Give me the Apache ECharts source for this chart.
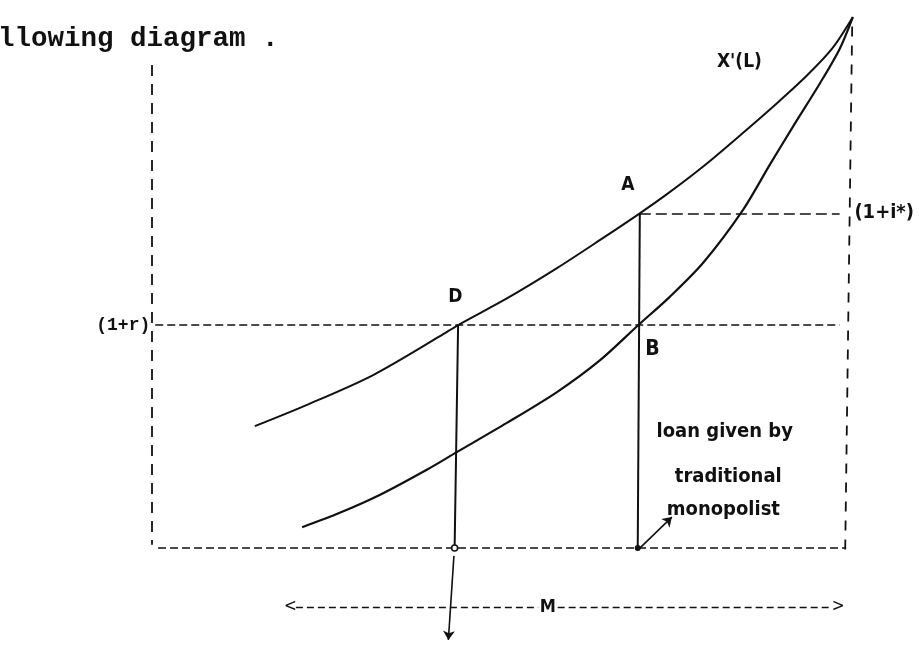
<!DOCTYPE html>
<html>
<head>
<meta charset="utf-8">
<title>Loan diagram</title>
<script src="https://cdn.jsdelivr.net/npm/echarts@6/dist/echarts.min.js"></script>
<style>
  html, body { margin: 0; padding: 0; background: #fff; }
  #chart { width: 919px; height: 649px; }
</style>
</head>
<body>
<div id="chart"></div>
<script>
// x = loan size, y = interest factor, both in arbitrary diagram units
const upperL = [14.6, 22.1, 31.6, 41.2, 43.8, 50.8, 58.0, 64.2, 69.9, 73.8, 79.0, 84.7, 89.6, 93.9, 97.6, 100.5];
const upperY = [22.9, 26.9, 32.5, 39.8, 41.9, 46.9, 52.6, 57.9, 62.9, 66.5, 71.7, 78.0, 83.6, 88.8, 94.0, 99.8];
const lowerL = [21.4, 26.8, 32.6, 39.3, 43.6, 50.8, 58.0, 64.2, 69.7, 74.2, 79.0, 84.7, 88.6, 91.9, 95.8, 98.6, 100.5];
const lowerY = [3.9, 6.6, 10.0, 14.7, 18.0, 23.5, 29.3, 35.3, 41.9, 47.2, 53.6, 63.5, 72.1, 79.2, 87.4, 93.8, 99.8];

const rLevel = 41.9;      // (1+r)
const iStarLevel = 62.9;  // (1+i*)
const loanD = 43.8;
const loanA = 69.9;
const mArrowY = -11.1;
const mArrowEnds = [19.7, 98.4];
const mCenter = 56.7;

const pairs = (xs, ys) => xs.map((x, i) => [x, ys[i]]);

const black = '#111';
const hand = '"DejaVu Sans Condensed", "DejaVu Sans", sans-serif';
const typewriter = '"Liberation Mono", "DejaVu Sans Mono", monospace';

function seg(a, b, dash, width) {
  return {
    coords: [a, b],
    lineStyle: { type: dash || 'solid', width: width || 1.6, color: black, opacity: 1 }
  };
}

const guideLines = [
  seg([-0.2, 90.8], [-0.2, 0.6], [11, 8], 1.8),               // left frame
  seg([100.4, 98], [99.4, -0.4], [10, 9], 1.8),                // right frame
  seg([0.7, 0], [99.4, 0], [8, 4], 1.5),                       // bottom
  seg([0.3, rLevel], [98.6, rLevel], [8, 4], 1.5),             // (1+r)
  seg([loanA, iStarLevel], [98.6, iStarLevel], [11, 5], 1.5),  // (1+i*)
  seg([mArrowEnds[0] + 0.8, mArrowY], [mCenter - 1.4, mArrowY], [7, 4], 1.3),
  seg([mCenter + 1.4, mArrowY], [mArrowEnds[1] - 0.8, mArrowY], [7, 4], 1.3)
];

const solidLines = [
  seg([loanD, rLevel], [loanD - 0.5, 0], 'solid', 2),
  seg([loanA, iStarLevel], [loanA - 0.3, 0], 'solid', 2)
];

const arrowLines = [
  seg([loanD - 0.6, -1.5], [loanD - 1.4, -17.3], 'solid', 1.6),
  seg([loanA - 0.3, -0.4], [74.5, 5.8], 'solid', 1.6)
];

function textItem(text, x, y, size, font, weight) {
  return {
    value: [x, y],
    label: {
      formatter: text,
      fontSize: size,
      fontFamily: font || hand,
      fontWeight: weight || 'bold',
      color: black
    }
  };
}

const annotations = [
  textItem('A', 68.2, 68.2, 19),
  textItem('D', 43.4, 47.2, 19),
  textItem('B', 71.7, 37.2, 21),
  textItem("X'(L)", 84.2, 91.4, 19),
  textItem('(1+i*)', 105.0, 63.0, 20),
  textItem('loan given by', 82.1, 21.8, 20),
  textItem('traditional', 82.6, 13.3, 20),
  textItem('monopolist', 81.9, 7.1, 20),
  textItem('M', mCenter, mArrowY, 18, hand, 'bold'),
  textItem('<', mArrowEnds[0], mArrowY, 17, hand, 'normal'),
  textItem('>', mArrowEnds[1], mArrowY, 17, hand, 'normal'),
  textItem('(1+r)', -4.3, 41.9, 18, typewriter, 'bold')
];

const chart = echarts.init(document.getElementById('chart'));

const option = {
  backgroundColor: '#fff',
  animation: false,
  grid: { left: 0, right: 0, top: 0, bottom: 0 },
  xAxis: { type: 'value', min: -22, max: 110, show: false },
  yAxis: { type: 'value', min: -19, max: 103, show: false },
  graphic: [
    {
      type: 'text',
      left: -2,
      top: 25,
      style: {
        text: 'llowing diagram .',
        font: 'bold 27.5px ' + typewriter,
        fill: black
      }
    }
  ],
  series: [
    {
      type: 'line',
      data: pairs(upperL, upperY),
      smooth: 0.3,
      showSymbol: false,
      lineStyle: { color: black, width: 2 }
    },
    {
      type: 'line',
      data: pairs(lowerL, lowerY),
      smooth: 0.3,
      showSymbol: false,
      lineStyle: { color: black, width: 2.2 }
    },
    {
      type: 'lines',
      coordinateSystem: 'cartesian2d',
      data: guideLines.concat(solidLines),
      symbol: 'none',
      lineStyle: { opacity: 1 }
    },
    {
      type: 'lines',
      coordinateSystem: 'cartesian2d',
      data: arrowLines,
      symbol: ['none', 'arrow'],
      symbolSize: 9,
      lineStyle: { opacity: 1 }
    },
    {
      type: 'scatter',
      data: [[loanD - 0.5, 0]],
      symbol: 'circle',
      symbolSize: 6,
      itemStyle: { color: '#fff', borderColor: black, borderWidth: 1.5, opacity: 1 }
    },
    {
      type: 'scatter',
      data: [[loanA - 0.3, 0]],
      symbol: 'circle',
      symbolSize: 6,
      itemStyle: { color: black, opacity: 1 }
    },
    {
      type: 'scatter',
      data: annotations,
      symbolSize: 1,
      itemStyle: { color: 'rgba(0,0,0,0)', opacity: 1 },
      clip: false,
      label: { show: true, position: 'inside', color: black }
    }
  ]
};

chart.setOption(option);
</script>
</body>
</html>
